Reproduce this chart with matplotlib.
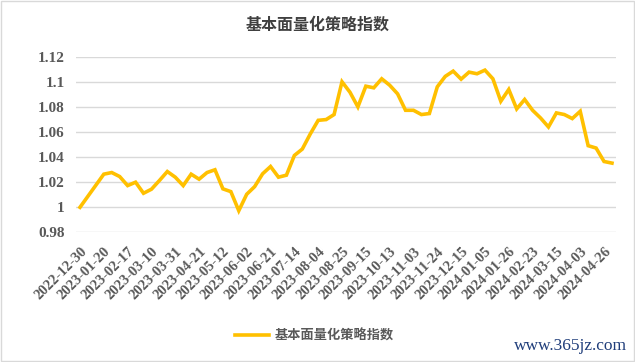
import numpy as np
import matplotlib.pyplot as plt
from matplotlib.patches import Rectangle

# weekly index values (68 points)
index_values = [
    1.0000, 1.0088, 1.0176, 1.0264, 1.0277, 1.0245, 1.0173, 1.0200, 1.0112, 1.0144,
    1.0213, 1.0285, 1.0240, 1.0173, 1.0264, 1.0224, 1.0277, 1.0299, 1.0147, 1.0125,
    0.9973, 1.0104, 1.0165, 1.0267, 1.0325, 1.0240, 1.0256, 1.0413, 1.0464, 1.0584,
    1.0693, 1.0699, 1.0739, 1.1000, 1.0917, 1.0800, 1.0965, 1.0952, 1.1024, 1.0973,
    1.0904, 1.0773, 1.0773, 1.0739, 1.0747, 1.0960, 1.1043, 1.1085, 1.1021, 1.1077,
    1.1064, 1.1093, 1.1024, 1.0845, 1.0939, 1.0784, 1.0859, 1.0773, 1.0712, 1.0640,
    1.0752, 1.0739, 1.0707, 1.0765, 1.0491, 1.0472, 1.0365, 1.0352,
]

# labels shown on the axis, one every 3 weeks
tick_labels = [
    '2022-12-30', '2023-01-20', '2023-02-17', '2023-03-10', '2023-03-31',
    '2023-04-21', '2023-05-12', '2023-06-02', '2023-06-21', '2023-07-14',
    '2023-08-04', '2023-08-25', '2023-09-15', '2023-10-13', '2023-11-03',
    '2023-11-24', '2023-12-15', '2024-01-05', '2024-01-26', '2024-02-23',
    '2024-03-15', '2024-04-03', '2024-04-26',
]
y_ticks = [0.98, 1.0, 1.02, 1.04, 1.06, 1.08, 1.1, 1.12]
y_tick_labels = ['0.98', '1', '1.02', '1.04', '1.06', '1.08', '1.1', '1.12']

series_name = '基本面量化策略指数'
cjk = ['Noto Sans CJK SC', 'DejaVu Sans']
serif = ['Liberation Serif', 'DejaVu Serif']
grey = '#595959'

fig = plt.figure(figsize=(6.35, 3.62), dpi=100)
ax = fig.add_axes([0.1197, 0.358, 0.8503, 0.4854])

x = np.arange(len(index_values))
line, = ax.plot(x, index_values, color='#FFC000', lw=2.6, solid_joinstyle='miter')

ax.set_xlim(-0.5, len(index_values) - 0.5)
ax.set_ylim(0.98, 1.12)
ax.set_yticks(y_ticks)
ax.set_yticklabels(y_tick_labels, family=serif, fontweight='bold', fontsize=11, color=grey)
ax.set_xticks(np.arange(0, 3 * len(tick_labels), 3))
ax.set_xticklabels(tick_labels, family=serif, fontweight='bold', fontsize=10.5, color=grey,
                   rotation=45, ha='right', va='top', rotation_mode='anchor')
ax.tick_params(length=0)
ax.tick_params(axis='x', pad=9)
ax.tick_params(axis='y', pad=8)
ax.grid(axis='y', color='#D9D9D9', lw=1)
ax.set_axisbelow(True)
for s in ax.spines.values():
    s.set_visible(False)

fig.text(0.5, 0.932, series_name, ha='center', va='center', family=cjk,
         fontweight='bold', fontsize=11.5, color='#404040')

leg = fig.legend([line], [series_name], loc='center', bbox_to_anchor=(0.495, 0.072),
                 frameon=False, prop={'family': cjk, 'weight': 'bold', 'size': 9.5},
                 handlelength=2.6, handletextpad=0.4)
for t in leg.get_texts():
    t.set_color(grey)

fig.text(0.988, 0.044, 'www.365jz.com', ha='right', va='center', family=serif,
         fontsize=12.5, color='#1F3D7A')

fig.patches.append(Rectangle((0.001, 0.003), 0.997, 0.995, transform=fig.transFigure,
                             fill=False, ec='#D9D9D9', lw=1))

fig.savefig('out.png', dpi=100)
